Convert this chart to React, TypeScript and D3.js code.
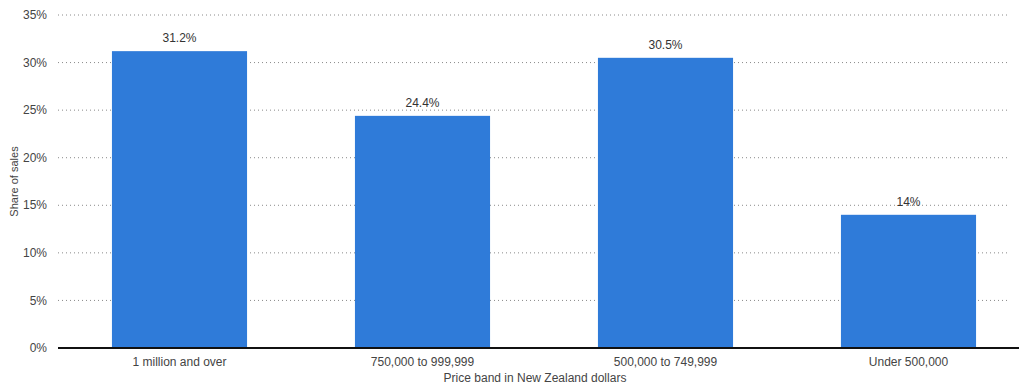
import React from "react";
import * as d3 from "d3";

const categories = ["1 million and over", "750,000 to 999,999", "500,000 to 749,999", "Under 500,000"];
const values = [31.2, 24.4, 30.5, 14];
const valueLabels = ["31.2%", "24.4%", "30.5%", "14%"];
const yTicks = [0, 5, 10, 15, 20, 25, 30, 35];

const W = 1019;
const H = 387;
const left = 58;
const gridRight = 1010;
const top = 15;
const bottom = 348;

export default function App() {
  const x = d3.scaleBand<string>().domain(categories).range([left, 1030]).paddingInner(0.444).paddingOuter(0.222);
  const y = d3.scaleLinear().domain([0, 35]).range([bottom, top]);
  const font = "Arial, 'Liberation Sans', sans-serif";
  return (
    <svg width={W} height={H} style={{ position: "absolute", left: 0, top: 0, background: "#fff" }} fontFamily={font}>
      {yTicks.map((t) => (
        <g key={t}>
          {t !== 0 && (
            <line x1={left} x2={gridRight} y1={y(t)} y2={y(t)} stroke="#8a8a8a" strokeWidth={1} strokeDasharray="1,3" />
          )}
          <text x={47} y={y(t)} dy="0.35em" textAnchor="end" fontSize={12} fill="#444">{t}%</text>
        </g>
      ))}
      {categories.map((c, i) => (
        <g key={c}>
          <rect x={x(c)!} y={y(values[i])} width={x.bandwidth()} height={bottom - y(values[i])} fill="#2f7bd9" />
          <text x={x(c)! + x.bandwidth() / 2} y={y(values[i]) - 9} textAnchor="middle" fontSize={12} fill="#333">{valueLabels[i]}</text>
          <text x={x(c)! + x.bandwidth() / 2} y={bottom + 18} textAnchor="middle" fontSize={12} fill="#444">{c}</text>
        </g>
      ))}
      <line x1={left} x2={W} y1={bottom} y2={bottom} stroke="#111" strokeWidth={2} />
      <text x={535} y={382} textAnchor="middle" fontSize={12} fill="#444">Price band in New Zealand dollars</text>
      <text transform={`translate(18,${(top + bottom) / 2}) rotate(-90)`} textAnchor="middle" fontSize={11} fill="#444">Share of sales</text>
    </svg>
  );
}
